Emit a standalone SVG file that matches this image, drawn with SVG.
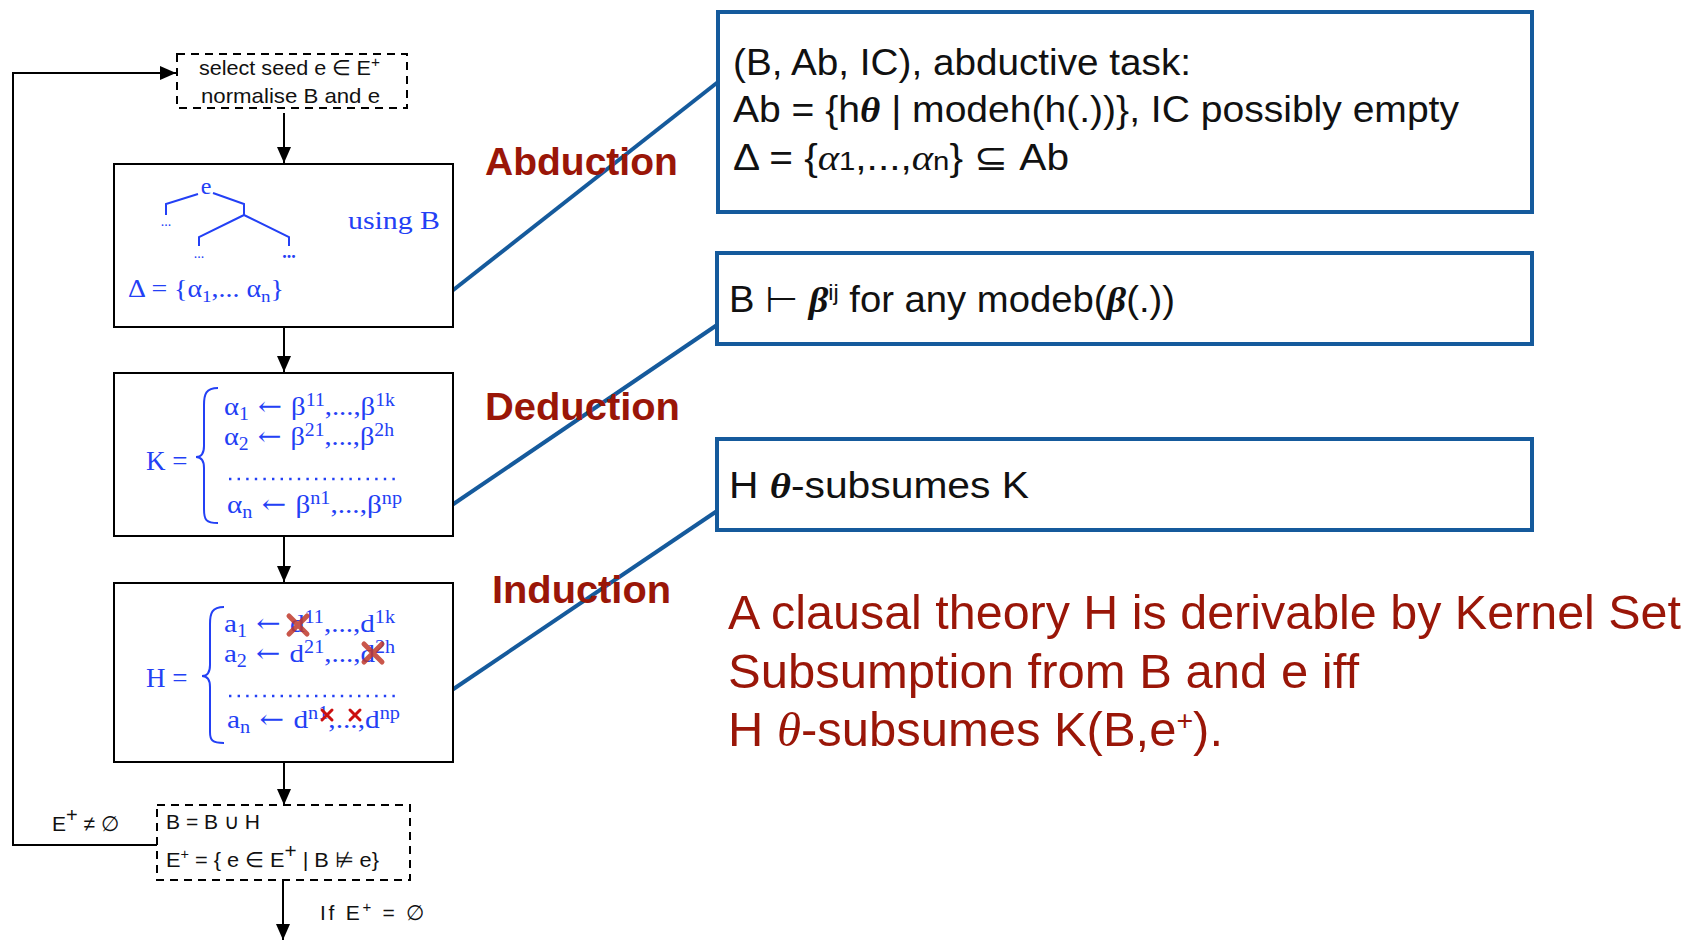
<svg xmlns="http://www.w3.org/2000/svg" width="1697" height="940" viewBox="0 0 1697 940">
<style>
.box{fill:#fff;stroke:#000;stroke-width:2}
.dash{fill:#fff;stroke:#000;stroke-width:2;stroke-dasharray:8,6}
.rbox{fill:#fff;stroke:#155a9c;stroke-width:4}
.con{fill:none;stroke:#155a9c;stroke-width:4}
.flow{fill:none;stroke:#000;stroke-width:2}
.sans{font-family:"Liberation Sans",Arial,sans-serif;fill:#111}
.math{font-family:"Liberation Serif","DejaVu Serif",serif;fill:#2340f5}
.arr{font-family:"DejaVu Serif",serif}
.tree{fill:none;stroke:#2340f5;stroke-width:2}
.lbl{font-family:"Liberation Sans",Arial,sans-serif;font-weight:bold;font-size:39px;fill:#9a1608}
.big{font-family:"Liberation Sans",Arial,sans-serif;font-size:48px;fill:#9a1608}
.rt{font-family:"Liberation Sans",Arial,sans-serif;font-size:36px;fill:#111}
.it{font-family:"Liberation Serif","DejaVu Serif",serif;font-style:italic}
</style>
<defs>
<marker id="ahv" markerWidth="16" markerHeight="16" viewBox="0 0 16 16" refX="16" refY="8" orient="auto" markerUnits="userSpaceOnUse">
<path d="M0,1 L16,8 L0,15 Z" fill="#000"/>
</marker>
</defs>

<g id="connectors">
<line class="flow" x1="284" y1="113" x2="284" y2="163" marker-end="url(#ahv)"/>
<line class="flow" x1="284" y1="327" x2="284" y2="372" marker-end="url(#ahv)"/>
<line class="flow" x1="284" y1="536" x2="284" y2="582" marker-end="url(#ahv)"/>
<line class="flow" x1="284" y1="762" x2="284" y2="805" marker-end="url(#ahv)"/>
<line class="flow" x1="283" y1="880" x2="283" y2="940" marker-end="url(#ahv)"/>
<path class="flow" d="M157,845 H13 V73 H176" marker-end="url(#ahv)"/>
<line class="con" x1="452" y1="291" x2="718" y2="82"/>
<line class="con" x1="452" y1="505" x2="717" y2="325"/>
<line class="con" x1="452" y1="690" x2="717" y2="511"/>
</g>

<g id="seed">
<rect class="dash" x="177" y="54" width="230" height="54"/>
<text class="sans" x="199" y="75" font-size="21" textLength="181" lengthAdjust="spacingAndGlyphs">select seed e ∈ E<tspan dy="-8" font-size="15">+</tspan></text>
<text class="sans" x="201" y="103" font-size="21" textLength="179" lengthAdjust="spacingAndGlyphs">normalise B and e</text>
</g>

<g id="abduction-box">
<rect class="box" x="114" y="164" width="339" height="163"/>
<path class="tree" d="M166,215 V204 L198,194 M213,193 L244,204 V215 M244,215 L199,237 V246 M244,215 L289,237 V246"/>
<text class="math" x="206" y="194" font-size="24" text-anchor="middle">e</text>
<text class="math" x="166" y="226" font-size="14" text-anchor="middle">...</text>
<text class="math" x="199" y="258" font-size="14" text-anchor="middle">...</text>
<text class="math" x="289" y="258" font-size="18" font-weight="bold" text-anchor="middle">...</text>
<text class="math" x="348" y="229" font-size="25" textLength="92" lengthAdjust="spacingAndGlyphs">using B</text>
<text class="math" x="128" y="297" font-size="25" textLength="156" lengthAdjust="spacingAndGlyphs">Δ = {α<tspan dy="5" font-size="17">1</tspan><tspan dy="-5">,... α</tspan><tspan dy="5" font-size="17">n</tspan><tspan dy="-5">}</tspan></text>
</g>

<g id="kernel-box">
<rect class="box" x="114" y="373" width="339" height="163"/>
<text class="math" x="146" y="470" font-size="27">K =</text>
<path d="M218,388 C206,388 204,394 204,405 L204,446 C204,453 201,457 196,457 C201,457 204,461 204,468 L204,509 C204,520 206,523 218,523" fill="none" stroke="#2340f5" stroke-width="2"/>
<text class="math" x="224" y="415" font-size="26" textLength="171" lengthAdjust="spacingAndGlyphs">α<tspan dy="5" font-size="18">1</tspan><tspan dy="-5" class="arr"> ← </tspan>β<tspan dy="-9" font-size="18">11</tspan><tspan dy="9">,...,β</tspan><tspan dy="-9" font-size="18">1k</tspan></text>
<text class="math" x="224" y="445" font-size="26" textLength="170" lengthAdjust="spacingAndGlyphs">α<tspan dy="5" font-size="18">2</tspan><tspan dy="-5" class="arr"> ← </tspan>β<tspan dy="-9" font-size="18">21</tspan><tspan dy="9">,...,β</tspan><tspan dy="-9" font-size="18">2h</tspan></text>
<line x1="229" y1="479" x2="395" y2="479" stroke="#2340f5" stroke-width="2.4" stroke-dasharray="2.4,6.2"/>
<text class="math" x="227" y="513" font-size="26" textLength="175" lengthAdjust="spacingAndGlyphs">α<tspan dy="5" font-size="18">n</tspan><tspan dy="-5" class="arr"> ← </tspan>β<tspan dy="-9" font-size="18">n1</tspan><tspan dy="9">,...,β</tspan><tspan dy="-9" font-size="18">np</tspan></text>
</g>

<g id="hypothesis-box">
<rect class="box" x="114" y="583" width="339" height="179"/>
<text class="math" x="146" y="687" font-size="27">H =</text>
<path d="M224,607 C212,607 210,613 210,624 L210,665 C210,672 207,676 202,676 C207,676 210,680 210,687 L210,732 C210,740 212,743 224,743" fill="none" stroke="#2340f5" stroke-width="2"/>
<text class="math" x="224" y="632" font-size="26" textLength="171" lengthAdjust="spacingAndGlyphs">a<tspan dy="5" font-size="18">1</tspan><tspan dy="-5" class="arr"> ← </tspan>d<tspan dy="-9" font-size="18">11</tspan><tspan dy="9">,...,d</tspan><tspan dy="-9" font-size="18">1k</tspan></text>
<text class="math" x="224" y="662" font-size="26" textLength="171" lengthAdjust="spacingAndGlyphs">a<tspan dy="5" font-size="18">2</tspan><tspan dy="-5" class="arr"> ← </tspan>d<tspan dy="-9" font-size="18">21</tspan><tspan dy="9">,...,d</tspan><tspan dy="-9" font-size="18">2h</tspan></text>
<line x1="229" y1="696" x2="395" y2="696" stroke="#2340f5" stroke-width="2.4" stroke-dasharray="2.4,6.2"/>
<text class="math" x="227" y="728" font-size="26" textLength="173" lengthAdjust="spacingAndGlyphs">a<tspan dy="5" font-size="18">n</tspan><tspan dy="-5" class="arr"> ← </tspan>d<tspan dy="-9" font-size="18">n1</tspan><tspan dy="9">,...,d</tspan><tspan dy="-9" font-size="18">np</tspan></text>
<g stroke="#c0392b" stroke-linecap="round" opacity="0.85">
<path d="M289,616 L307,634 M307,616 L289,634" stroke-width="5"/>
<path d="M364,644 L382,662 M382,644 L364,662" stroke-width="5"/>
</g>
<g stroke="#cc1010" stroke-width="3" stroke-linecap="round">
<path d="M322,710 L332,720 M332,710 L322,720"/>
<path d="M350,710 L360,720 M360,710 L350,720"/>
</g>
</g>

<g id="update">
<rect class="dash" x="157" y="805" width="253" height="75"/>
<text class="sans" x="166" y="829" font-size="21" textLength="94" lengthAdjust="spacingAndGlyphs">B = B ∪ H</text>
<text class="sans" x="166" y="867" font-size="21" textLength="213" lengthAdjust="spacingAndGlyphs">E<tspan dy="-8" font-size="14">+</tspan><tspan dy="8"> = { e ∈ E</tspan><tspan dy="-9" font-size="20">+</tspan><tspan dy="9"> | B ⊭ e}</tspan></text>
<text class="sans" x="52" y="831" font-size="21">E<tspan dy="-9" font-size="20">+</tspan><tspan dy="9"> ≠ ∅</tspan></text>
<text class="sans" x="320" y="920" font-size="21" textLength="104" lengthAdjust="spacing">If E<tspan dy="-8" font-size="15">+</tspan><tspan dy="8"> = ∅</tspan></text>
</g>

<g id="labels">
<text class="lbl" x="485" y="175">Abduction</text>
<text class="lbl" x="485" y="420" textLength="195" lengthAdjust="spacingAndGlyphs">Deduction</text>
<text class="lbl" x="492" y="603" textLength="179" lengthAdjust="spacingAndGlyphs">Induction</text>
</g>

<g id="abductive-task">
<rect class="rbox" x="718" y="12" width="814" height="200"/>
<text class="rt" x="733" y="75" textLength="458" lengthAdjust="spacingAndGlyphs">(B, Ab, IC), abductive task:</text>
<text class="rt" x="733" y="122" textLength="726" lengthAdjust="spacingAndGlyphs">Ab = {h<tspan class="it" font-weight="bold">θ</tspan> | modeh(h(.))}, IC possibly empty</text>
<text class="rt" x="733" y="170" textLength="336" lengthAdjust="spacingAndGlyphs">Δ = {<tspan class="it">α</tspan><tspan font-size="26">1</tspan>,...,<tspan class="it">α</tspan><tspan font-size="26">n</tspan>} ⊆ Ab</text>
</g>

<g id="deduction-box">
<rect class="rbox" x="717" y="253" width="815" height="91"/>
<text class="rt" x="729" y="312" textLength="446" lengthAdjust="spacingAndGlyphs">B ⊢ <tspan class="it" font-weight="bold">β</tspan><tspan dy="-12" font-size="22">ij</tspan><tspan dy="12"> for any modeb(</tspan><tspan class="it" font-weight="bold">β</tspan>(.))</text>
</g>

<g id="induction-box">
<rect class="rbox" x="717" y="439" width="815" height="91"/>
<text class="rt" x="729" y="498" textLength="300" lengthAdjust="spacingAndGlyphs">H <tspan class="it" font-weight="bold">θ</tspan>-subsumes K</text>
</g>

<g id="statement">
<text class="big" x="728" y="629" textLength="953" lengthAdjust="spacingAndGlyphs">A clausal theory H is derivable by Kernel Set</text>
<text class="big" x="728" y="688" textLength="631" lengthAdjust="spacingAndGlyphs">Subsumption from B and e iff</text>
<text class="big" x="728" y="746" textLength="495" lengthAdjust="spacingAndGlyphs">H <tspan class="it">θ</tspan>-subsumes K(B,e<tspan dy="-16" font-size="28">+</tspan><tspan dy="16">).</tspan></text>
</g>
</svg>
